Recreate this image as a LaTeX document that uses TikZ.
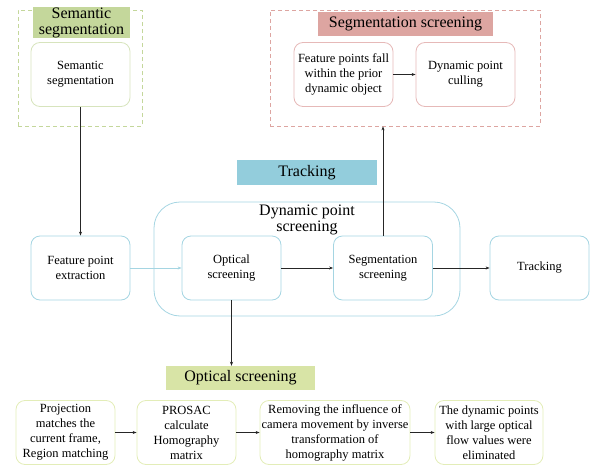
\documentclass[tikz,border=0pt]{standalone}
\usepackage{fontspec}
\setmainfont{Liberation Serif}
\newfontfamily\timesfont{Liberation Serif}
\usetikzlibrary{arrows.meta}

\definecolor{semgreen}{HTML}{C4D79B}
\definecolor{semline}{HTML}{D7E4BD}
\definecolor{segred}{HTML}{DDA5A1}
\definecolor{segline}{HTML}{E6B9B8}
\definecolor{trkblue}{HTML}{93CDDC}
\definecolor{boxblue}{HTML}{A5D5E2}
\definecolor{optgreen}{HTML}{D8E4A6}
\definecolor{optline}{HTML}{E3EDB8}

\tikzset{
  stepbox/.style={draw=boxblue,line width=0.8pt,rounded corners=9pt,minimum width=99pt,minimum height=64pt,align=center,font=\timesfont\fontsize{12.5}{15}\selectfont,inner sep=1pt},
  headbox/.style={inner sep=0pt,align=center,font=\timesfont\fontsize{16}{16}\selectfont},
  flow/.style={-{Stealth[length=4pt,width=3pt]},line width=0.8pt,black!85}
}

\begin{document}
\begin{tikzpicture}[x=1pt,y=-1pt]
\useasboundingbox (0,0) rectangle (590,466);

% semantic segmentation
\node[draw=semgreen,dashed,dash pattern=on 4pt off 3pt,line width=0.8pt,minimum width=124pt,minimum height=116pt] (semfr) at (80,68) {};
\node[headbox,fill=semgreen,minimum width=97pt,minimum height=25pt] (semlab) at (81.5,22.5) {Semantic\\segmentation};
\node[stepbox,draw=semline] (sem) at (80.5,74.5) {Semantic\\segmentation};

% segmentation screening
\node[draw=segred,dashed,dash pattern=on 4pt off 3pt,line width=0.8pt,minimum width=270pt,minimum height=116pt] (segfr) at (405,68) {};
\node[headbox,fill=segred,minimum width=175pt,minimum height=24pt] (seglab) at (405.5,24) {Segmentation screening};
\node[stepbox,draw=segline] (prior) at (343.5,74.5) {Feature points fall\\within the prior\\dynamic object};
\node[stepbox,draw=segline] (cull) at (465.5,74.5) {Dynamic point\\culling};

% tracking
\node[headbox,fill=trkblue,minimum width=140pt,minimum height=25pt] (trklab) at (307,172.5) {Tracking};
\node[draw=boxblue,line width=0.8pt,rounded corners=26pt,minimum width=306pt,minimum height=114pt] (dyn) at (307,259) {};
\node[headbox] (dynlab) at (307,220) {Dynamic point\\screening};
\node[stepbox] (fpe) at (80.5,268) {Feature point\\extraction};
\node[stepbox] (opt) at (231.5,268) {Optical\\screening};
\node[stepbox] (seg) at (383,268) {Segmentation\\screening};
\node[stepbox] (trk) at (539.5,268) {Tracking};

% optical screening
\node[headbox,fill=optgreen,minimum width=149pt,minimum height=24pt] (optlab) at (240.5,378) {Optical screening};
\node[stepbox,draw=optline] (proj) at (65.5,432.5) {Projection\\matches the\\current frame,\\Region matching};
\node[stepbox,draw=optline] (pros) at (186.5,432.5) {PROSAC\\calculate\\Homography\\matrix};
\node[stepbox,draw=optline,minimum width=150pt] (inv) at (335,432.5) {Removing the influence of\\camera movement by inverse\\transformation of\\homography matrix};
\node[stepbox,draw=optline,minimum width=108pt] (elim) at (489,432.5) {The dynamic points\\with large optical\\flow values were\\eliminated};

\draw[flow] (sem.south) -- (fpe.north);
\draw[flow] (prior) -- (cull);
\draw[flow,draw=boxblue] (fpe) -- (opt);
\draw[flow] (opt) -- (seg);
\draw[flow] (seg) -- (trk);
\draw[flow] (seg.north) -- (seg.north |- segfr.south);
\draw[flow] (opt.south) -- (opt.south |- optlab.north);
\draw[flow] (proj) -- (pros);
\draw[flow] (pros) -- (inv);
\draw[flow] (inv) -- (elim);
\end{tikzpicture}
\end{document}
